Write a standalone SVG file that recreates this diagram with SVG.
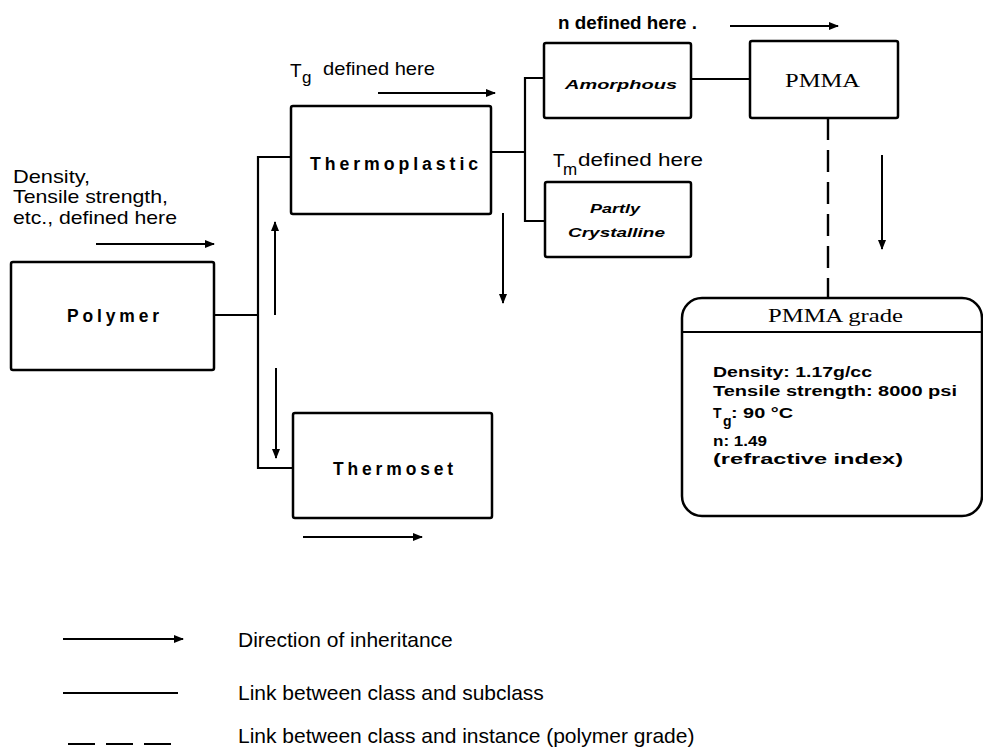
<svg xmlns="http://www.w3.org/2000/svg" width="983" height="749" viewBox="0 0 983 749">
<style>
  .bg{fill:#fff}
  .node{fill:#fff;stroke:#000;stroke-width:2.5}
  .link{fill:none;stroke:#000;stroke-width:2.2}
  .dash{fill:none;stroke:#000;stroke-width:2.4;stroke-dasharray:22 10}
  .arr{fill:none;stroke:#000;stroke-width:2;marker-end:url(#ah)}
  .lbl{font-family:"Liberation Sans",Arial,sans-serif;font-size:19px;fill:#000}
  .sub{font-family:"Liberation Sans",Arial,sans-serif;font-size:17px;fill:#000}
  .box{font-family:"Liberation Sans",Arial,sans-serif;font-size:18px;font-weight:bold;fill:#000;letter-spacing:4px}
  .it{font-family:"Liberation Sans",Arial,sans-serif;font-size:13px;font-weight:bold;font-style:italic;fill:#000}
  .serif{font-family:"Liberation Serif","Times New Roman",serif;fill:#000}
  .grade{font-family:"Liberation Sans",Arial,sans-serif;font-size:14px;font-weight:bold;fill:#000}
  .leg{font-family:"Liberation Sans",Arial,sans-serif;font-size:21px;fill:#000}
</style>
<defs>
  <marker id="ah" viewBox="0 0 10 10" refX="9" refY="5" markerWidth="5" markerHeight="5" orient="auto" markerUnits="strokeWidth">
    <path d="M0,1 L10,5 L0,9 Z" fill="#000"/>
  </marker>
</defs>
<rect class="bg" x="0" y="0" width="983" height="749"/>

<g id="connectors">
  <path class="link" d="M214,315 H258"/>
  <path class="link" d="M291,157 H258 V468 H293"/>
  <path class="link" d="M491,152 H525"/>
  <path class="link" d="M544,78 H525 V221 H545"/>
  <path class="link" d="M691,79 H750"/>
  <path class="dash" d="M828,118 V297"/>
</g>

<g id="inheritance-arrows">
  <path class="arr" d="M96,244 H214"/>
  <path class="arr" d="M378,93 H495"/>
  <path class="arr" d="M730,26 H838"/>
  <path class="arr" d="M882,155 V249"/>
  <path class="arr" d="M503,213 V303"/>
  <path class="arr" d="M275,315 V222"/>
  <path class="arr" d="M276,368 V458"/>
  <path class="arr" d="M303,537 H422"/>
</g>

<g id="labels">
  <text class="lbl" x="13" y="183" textLength="77" lengthAdjust="spacingAndGlyphs">Density,</text>
  <text class="lbl" x="13" y="203" textLength="155" lengthAdjust="spacingAndGlyphs">Tensile strength,</text>
  <text class="lbl" x="13" y="224" textLength="164" lengthAdjust="spacingAndGlyphs">etc., defined here</text>
  <text class="lbl" x="290" y="77" font-size="20">T</text>
  <text class="sub" x="302" y="83">g</text>
  <text class="lbl" x="323" y="75" textLength="112" lengthAdjust="spacingAndGlyphs">defined here</text>
  <text class="lbl" x="553" y="167" font-size="20">T</text>
  <text class="sub" x="563" y="175">m</text>
  <text class="lbl" x="578" y="166" textLength="125" lengthAdjust="spacingAndGlyphs">defined here</text>
  <text class="lbl" x="558" y="29" font-weight="bold" textLength="139" lengthAdjust="spacingAndGlyphs">n defined here .</text>
</g>

<g id="polymer">
  <rect class="node" x="11" y="262" width="203" height="108" rx="2"/>
  <text class="box" x="67" y="322" textLength="96" lengthAdjust="spacingAndGlyphs">Polymer</text>
</g>
<g id="thermoplastic">
  <rect class="node" x="291" y="106" width="200" height="108" rx="2"/>
  <text class="box" x="310" y="170" textLength="172" lengthAdjust="spacingAndGlyphs">Thermoplastic</text>
</g>
<g id="thermoset">
  <rect class="node" x="293" y="413" width="199" height="105" rx="2"/>
  <text class="box" x="333" y="475" textLength="124" lengthAdjust="spacingAndGlyphs">Thermoset</text>
</g>
<g id="amorphous">
  <rect class="node" x="544" y="43" width="147" height="75" rx="2"/>
  <text class="it" x="565" y="89" textLength="112" lengthAdjust="spacingAndGlyphs">Amorphous</text>
</g>
<g id="partly-crystalline">
  <rect class="node" x="545" y="182" width="146" height="75" rx="2"/>
  <text class="it" x="590" y="213" textLength="50" lengthAdjust="spacingAndGlyphs">Partly</text>
  <text class="it" x="568" y="237" textLength="97" lengthAdjust="spacingAndGlyphs">Crystalline</text>
</g>
<g id="pmma">
  <rect class="node" x="750" y="41" width="148" height="77" rx="2"/>
  <text class="serif" x="785" y="87" font-size="18" textLength="75" lengthAdjust="spacingAndGlyphs">PMMA</text>
</g>
<g id="pmma-grade">
  <rect class="node" x="682" y="298" width="300" height="218" rx="20"/>
  <path class="link" d="M682,332 H982"/>
  <text class="serif" x="768" y="322" font-size="18" textLength="135" lengthAdjust="spacingAndGlyphs">PMMA grade</text>
  <text class="grade" x="713" y="377" textLength="159" lengthAdjust="spacingAndGlyphs">Density: 1.17g/cc</text>
  <text class="grade" x="713" y="396" textLength="244" lengthAdjust="spacingAndGlyphs">Tensile strength: 8000 psi</text>
  <text class="grade" x="713" y="418" font-size="15">T</text>
  <text class="grade" x="723" y="426" font-size="12">g</text>
  <text class="grade" x="731" y="418" font-size="15" textLength="62" lengthAdjust="spacingAndGlyphs">: 90 °C</text>
  <text class="grade" x="713" y="446" textLength="54" lengthAdjust="spacingAndGlyphs">n: 1.49</text>
  <text class="grade" x="713" y="464" textLength="190" lengthAdjust="spacingAndGlyphs">(refractive index)</text>
</g>

<g id="legend">
  <path class="arr" d="M63,639 H183"/>
  <path class="link" d="M63,693 H178"/>
  <path class="link" d="M68,744 H172" stroke-dasharray="27 11"/>
  <text class="leg" x="238" y="647">Direction of inheritance</text>
  <text class="leg" x="238" y="700">Link between class and subclass</text>
  <text class="leg" x="238" y="743">Link between class and instance (polymer grade)</text>
</g>
</svg>
